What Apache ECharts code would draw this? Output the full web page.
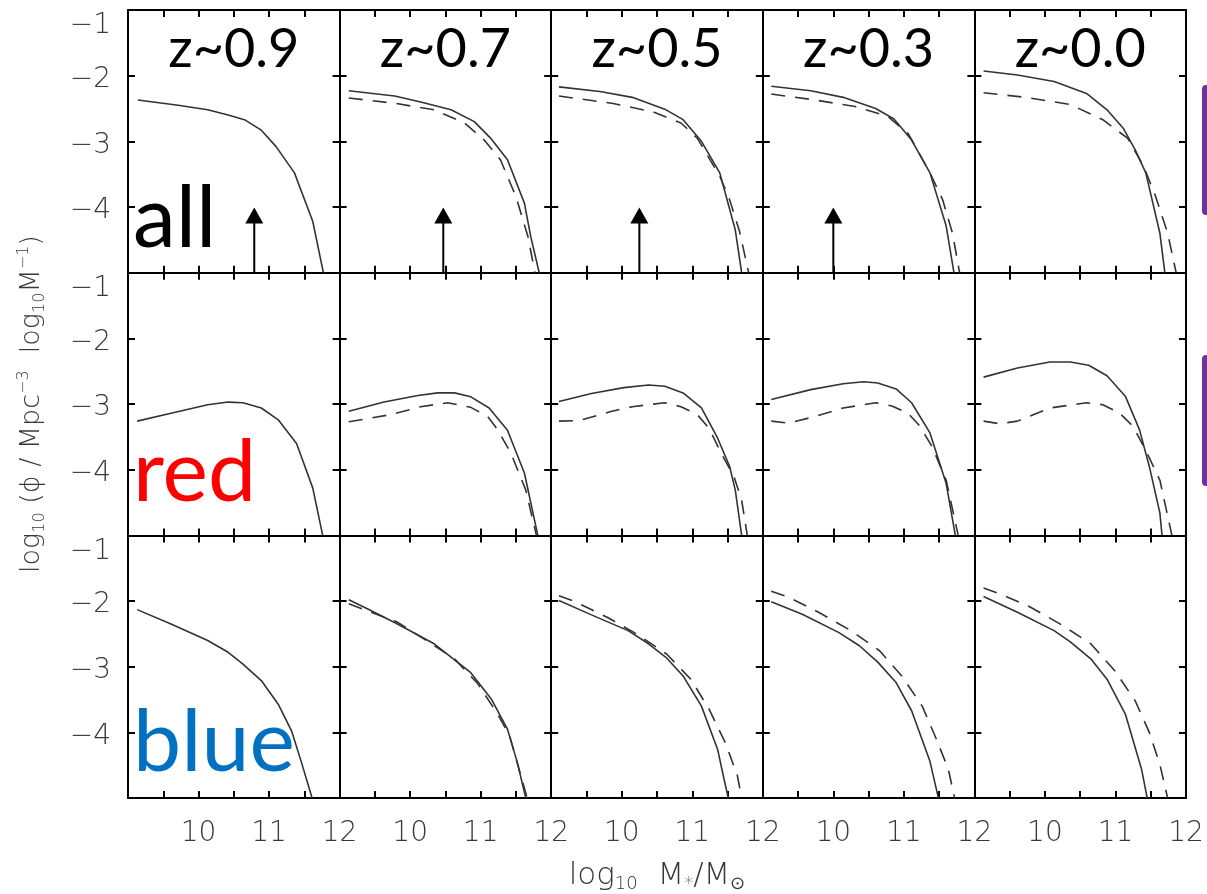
<!DOCTYPE html>
<html>
<head>
<meta charset="utf-8">
<script src="https://cdn.jsdelivr.net/npm/echarts@6/dist/echarts.min.js"></script>
<style>
  html, body { margin: 0; padding: 0; background: #fff; }
  #mf-chart { width: 1207px; height: 894px; }
</style>
</head>
<body>
<div id="mf-chart"></div>
<script>
// ==============================================================
// Stellar mass functions: all / red / blue, five redshift bins
// ==============================================================
var redshifts = ['z~0.9', 'z~0.7', 'z~0.5', 'z~0.3', 'z~0.0'];
var rowLabels = ['all', 'red', 'blue'];
var rowColors = ['#000000', '#ff0000', '#0070c0'];
var massTicks = [10, 11, 12];
var phiTicks = [-1, -2, -3, -4];

// [log10 M, log10 phi] per redshift column; dashed = z~0.0 reference (none in first column)
var allSolid = [
  [[9.14,-2.37],[9.71,-2.45],[10.13,-2.52],[10.42,-2.60],[10.65,-2.67],[10.89,-2.83],[11.10,-3.08],[11.36,-3.48],[11.62,-4.22],[11.77,-5.0]],
  [[9.13,-2.23],[9.78,-2.31],[10.15,-2.40],[10.58,-2.52],[10.91,-2.70],[11.14,-2.95],[11.38,-3.28],[11.62,-3.94],[11.71,-4.45],[11.83,-5.0]],
  [[9.11,-2.17],[9.69,-2.24],[10.15,-2.33],[10.61,-2.51],[10.87,-2.67],[11.13,-3.0],[11.39,-3.48],[11.61,-4.35],[11.70,-5.0]],
  [[9.12,-2.16],[9.68,-2.23],[10.14,-2.33],[10.60,-2.50],[10.86,-2.66],[11.11,-2.98],[11.37,-3.48],[11.60,-4.29],[11.71,-5.0]],
  [[9.13,-1.93],[9.61,-1.99],[10.13,-2.09],[10.59,-2.27],[10.88,-2.52],[11.11,-2.80],[11.28,-3.13],[11.43,-3.48],[11.63,-4.40],[11.70,-5.0]]
];
var allDashed = [
  null,
  [[9.13,-2.34],[9.78,-2.42],[10.34,-2.52],[10.77,-2.72],[11.05,-2.98],[11.28,-3.28],[11.50,-3.84],[11.67,-4.45],[11.77,-5.0]],
  [[9.11,-2.31],[9.86,-2.42],[10.44,-2.55],[10.84,-2.72],[11.07,-2.95],[11.39,-3.53],[11.53,-3.89],[11.67,-4.37],[11.80,-5.0]],
  [[9.12,-2.28],[9.74,-2.37],[10.31,-2.47],[10.77,-2.62],[11.06,-2.88],[11.37,-3.48],[11.55,-3.89],[11.69,-4.40],[11.79,-5.0]],
  [[9.13,-2.26],[9.73,-2.33],[10.36,-2.44],[10.82,-2.67],[11.17,-2.95],[11.40,-3.38],[11.57,-3.84],[11.74,-4.40],[11.86,-5.0]]
];
var redSolid = [
  [[9.13,-3.26],[9.61,-3.14],[10.13,-3.01],[10.42,-2.97],[10.63,-2.98],[10.89,-3.06],[11.13,-3.24],[11.39,-3.60],[11.62,-4.28],[11.76,-5.0]],
  [[9.13,-3.11],[9.63,-2.97],[10.11,-2.87],[10.39,-2.83],[10.63,-2.83],[10.86,-2.89],[11.12,-3.06],[11.38,-3.40],[11.62,-4.05],[11.81,-5.0]],
  [[9.11,-2.96],[9.57,-2.84],[10.03,-2.75],[10.38,-2.71],[10.61,-2.73],[10.87,-2.83],[11.13,-3.06],[11.36,-3.52],[11.53,-3.95],[11.61,-4.31],[11.70,-5.0]],
  [[9.12,-2.93],[9.68,-2.78],[10.14,-2.69],[10.43,-2.66],[10.63,-2.68],[10.89,-2.77],[11.11,-2.98],[11.37,-3.44],[11.60,-4.21],[11.73,-5.0]],
  [[9.13,-2.59],[9.61,-2.45],[10.07,-2.36],[10.36,-2.36],[10.62,-2.41],[10.88,-2.57],[11.14,-2.88],[11.34,-3.39],[11.48,-3.95],[11.63,-4.66],[11.66,-5.0]]
];
var redDashed = [
  null,
  [[9.13,-3.27],[9.73,-3.16],[10.15,-3.04],[10.53,-2.98],[10.86,-3.05],[11.10,-3.19],[11.24,-3.39],[11.43,-3.75],[11.64,-4.31],[11.79,-5.0]],
  [[9.11,-3.26],[9.40,-3.25],[9.86,-3.11],[10.15,-3.04],[10.61,-2.98],[10.84,-3.04],[11.07,-3.16],[11.24,-3.37],[11.41,-3.75],[11.59,-4.10],[11.70,-4.46],[11.78,-5.0]],
  [[9.12,-3.26],[9.36,-3.29],[9.74,-3.19],[10.14,-3.06],[10.60,-2.98],[10.83,-3.03],[11.06,-3.14],[11.23,-3.34],[11.40,-3.65],[11.60,-4.16],[11.77,-5.0]],
  [[9.13,-3.26],[9.36,-3.30],[9.61,-3.26],[10.07,-3.06],[10.59,-2.98],[10.82,-3.01],[11.05,-3.13],[11.25,-3.34],[11.45,-3.75],[11.63,-4.16],[11.80,-5.0]]
];
var blueSolid = [
  [[9.13,-2.13],[9.61,-2.35],[10.13,-2.60],[10.42,-2.78],[10.63,-2.96],[10.89,-3.21],[11.13,-3.57],[11.32,-3.98],[11.46,-4.46],[11.61,-5.0]],
  [[9.13,-1.98],[9.40,-2.12],[9.82,-2.35],[10.34,-2.65],[10.86,-3.09],[11.15,-3.49],[11.38,-3.95],[11.52,-4.46],[11.64,-5.0]],
  [[9.11,-1.99],[9.57,-2.21],[10.09,-2.45],[10.38,-2.65],[10.64,-2.87],[10.87,-3.14],[11.13,-3.60],[11.36,-4.26],[11.44,-4.66],[11.51,-5.0]],
  [[9.12,-2.01],[9.56,-2.20],[10.08,-2.48],[10.37,-2.68],[10.63,-2.93],[10.89,-3.24],[11.11,-3.67],[11.37,-4.44],[11.49,-5.0]],
  [[9.13,-1.93],[9.61,-2.17],[10.13,-2.45],[10.36,-2.62],[10.65,-2.88],[10.88,-3.19],[11.14,-3.72],[11.37,-4.56],[11.45,-5.0]]
];
var blueDashed = [
  null,
  [[9.13,-2.04],[9.82,-2.32],[10.20,-2.58],[10.63,-2.88],[10.96,-3.26],[11.24,-3.72],[11.41,-4.05],[11.66,-5.0]],
  [[9.11,-1.92],[9.34,-2.01],[9.80,-2.25],[10.21,-2.50],[10.64,-2.81],[10.98,-3.19],[11.24,-3.65],[11.47,-4.16],[11.64,-4.66],[11.70,-5.0]],
  [[9.12,-1.85],[9.36,-1.94],[9.79,-2.17],[10.25,-2.45],[10.66,-2.76],[10.97,-3.14],[11.26,-3.60],[11.46,-4.10],[11.63,-4.56],[11.72,-5.0]],
  [[9.13,-1.80],[9.36,-1.89],[9.79,-2.09],[10.25,-2.37],[10.65,-2.65],[10.99,-3.06],[11.28,-3.52],[11.48,-4.00],[11.63,-4.49],[11.74,-5.0]]
];
// completeness limits (arrows in the "all" row)
var arrowMass = [10.79, 10.47, 10.25, 10.0];
var arrowTip = -4.13;
var arrowBase = -5;

var solidRows = [allSolid, redSolid, blueSolid];
var dashedRows = [allDashed, redDashed, blueDashed];

var myChart = echarts.init(document.getElementById('mf-chart'));

var left0 = 128, top0 = 10, cellW = 211.6, cellH = 262.7;
var axisFont = 'DejaVu Sans';
var txt = '#383838';
var grids = [], xAxes = [], yAxes = [], series = [], graphics = [];

for (var r = 0; r < 3; r++) {
  for (var c = 0; c < 5; c++) {
    var g = r * 5 + c;
    grids.push({ left: left0 + c * cellW, top: top0 + r * cellH, width: cellW, height: cellH });

    var frameLine = { show: true, onZero: false, lineStyle: { color: '#000', width: 2 } };
    var tick = { show: true, inside: true, length: 7, lineStyle: { color: '#000', width: 2 } };

    xAxes.push({
      type: 'value', gridIndex: g, position: 'bottom', min: 9, max: 12, interval: 0.5,
      axisLine: frameLine, axisTick: tick, splitLine: { show: false },
      axisLabel: {
        show: r === 2, margin: 22, fontFamily: axisFont, fontWeight: 200, fontSize: 28, color: txt,
        formatter: function (v) { return massTicks.indexOf(v) >= 0 ? String(v) : ''; }
      }
    });
    xAxes.push({
      type: 'value', gridIndex: g, position: 'top', min: 9, max: 12, interval: 0.5,
      axisLine: frameLine, axisTick: tick, axisLabel: { show: false }, splitLine: { show: false }
    });

    yAxes.push({
      type: 'value', gridIndex: g, position: 'left', min: -5, max: -1, interval: 1,
      axisLine: frameLine, axisTick: tick, splitLine: { show: false },
      axisLabel: {
        show: c === 0, margin: 17, fontFamily: axisFont, fontWeight: 200, fontSize: 28, color: txt,
        padding: [8, 0, 0, 0],
        formatter: function (v) {
          if (phiTicks.indexOf(v) < 0) return '';
          var s = '\u2212' + Math.abs(v);
          return v === -1 ? '{top|' + s + '}' : s;
        },
        rich: { top: { fontFamily: axisFont, fontWeight: 200, fontSize: 28, color: txt, padding: [24, 0, 0, 0] } }
      },
      name: (r === 1 && c === 0) ? '{n|log}{s|10}{n| (\u03d5 / Mpc}{p|\u22123}{n|  log}{s|10}{n|M}{p|\u22121}{n|)}' : '',
      nameLocation: 'middle', nameGap: 80, nameRotate: 90,
      nameTextStyle: {
        rich: {
          n: { fontFamily: axisFont, fontWeight: 200, fontSize: 27, color: txt, lineHeight: 32 },
          s: { fontFamily: axisFont, fontWeight: 200, fontSize: 16, color: txt, lineHeight: 13, verticalAlign: 'bottom' },
          p: { fontFamily: axisFont, fontWeight: 200, fontSize: 16, color: txt, lineHeight: 13, verticalAlign: 'top' }
        }
      }
    });
    yAxes.push({
      type: 'value', gridIndex: g, position: 'right', min: -5, max: -1, interval: 1,
      axisLine: frameLine, axisTick: tick, axisLabel: { show: false }, splitLine: { show: false }
    });

    series.push({
      type: 'line', xAxisIndex: 2 * g, yAxisIndex: 2 * g, data: solidRows[r][c],
      showSymbol: false, silent: true,
      lineStyle: { color: '#333', width: 1.6, type: 'solid' }
    });
    if (dashedRows[r][c]) {
      series.push({
        type: 'line', xAxisIndex: 2 * g, yAxisIndex: 2 * g, data: dashedRows[r][c],
        showSymbol: false, silent: true,
        lineStyle: { color: '#333', width: 1.6, type: [14, 10] }
      });
    }
    if (r === 0 && c < arrowMass.length) {
      series.push({
        type: 'line', xAxisIndex: 2 * g, yAxisIndex: 2 * g, silent: true,
        showSymbol: true,
        data: [
          { value: [arrowMass[c], arrowBase], symbol: 'none' },
          { value: [arrowMass[c], arrowTip], symbol: 'triangle', symbolSize: [18, 16] }
        ],
        lineStyle: { color: '#000', width: 2 },
        itemStyle: { color: '#000' }
      });
    }
  }
  graphics.push({
    type: 'text', left: 133, top: top0 + r * cellH + (r === 0 ? 166 : (r === 1 ? 158 : 165)),
    style: { text: rowLabels[r], fontFamily: 'Lato', fontSize: 86, fill: rowColors[r] }
  });
}

for (var k = 0; k < redshifts.length; k++) {
  graphics.push({
    type: 'text', x: left0 + k * cellW + cellW / 2, y: top0 + 40,
    style: { text: redshifts[k], fontFamily: 'Lato', fontSize: 54, fill: '#000', align: 'center', verticalAlign: 'middle' }
  });
}
// x axis title, centred under the grid block
graphics.push({
  type: 'text', x: left0 + 2.5 * cellW, y: 876,
  style: {
    text: '{n|log}{s|10}{n|  M}{s|*}{n|/M}{s|\u2299}', align: 'center', verticalAlign: 'middle',
    rich: {
      n: { fontFamily: axisFont, fontWeight: 200, fontSize: 31, fill: txt, lineHeight: 34 },
      s: { fontFamily: axisFont, fontWeight: 200, fontSize: 18, fill: txt, lineHeight: 14, verticalAlign: 'bottom' }
    }
  }
});
// purple side markers (cut off at the right edge)
graphics.push({ type: 'rect', shape: { x: 1202, y: 85, width: 14, height: 130, r: 4 }, style: { fill: '#7030a0' } });
graphics.push({ type: 'rect', shape: { x: 1202, y: 355, width: 14, height: 131, r: 4 }, style: { fill: '#7030a0' } });

var option = {
  animation: false,
  backgroundColor: '#fff',
  grid: grids,
  xAxis: xAxes,
  yAxis: yAxes,
  series: series,
  graphic: graphics
};

myChart.setOption(option, true);
</script>
</body>
</html>
